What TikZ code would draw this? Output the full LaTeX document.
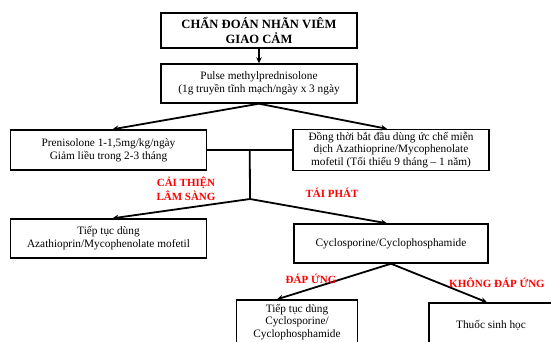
\documentclass[tikz,border=0pt]{standalone}
\usepackage{fontspec}
\setmainfont{Liberation Serif}
\usetikzlibrary{arrows.meta}

\begin{document}
\begin{tikzpicture}[
    x = 1pt, y = -1pt,
    line width = 1.4pt,
    >={Stealth[length = 6pt, width = 5.5pt]},
    box/.style = {draw, align = center, inner sep = 2pt,
      font = \fontsize{11.3}{12.8}\selectfont},
    heading/.style = {font = \fontsize{12.6}{14.5}\selectfont\bfseries},
    wide/.style = {minimum width = 196pt},
    narrow/.style = {minimum width = 121pt},
    outcome/.style = {red, align = center, inner sep = 0pt,
      font = \fontsize{11}{14}\selectfont\bfseries},
    flow/.style = {line width = 1.8pt},
    ]

    \useasboundingbox (0, 0) rectangle (551, 342);
    \clip (0, 0) rectangle (551, 342);

    \node at (259, 30.5)
    [box, wide, heading, minimum height = 35pt, name = diag]
    {CHẨN ĐOÁN NHÃN VIÊM\\GIAO CẢM};

    \node at (259, 83.5)
    [box, wide, minimum height = 39pt, name = pulse]
    {Pulse methylprednisolone\\(1g truyền tĩnh mạch/ngày x 3 ngày};

    \node at (108.5, 150)
    [box, wide, minimum height = 40pt, name = pred]
    {Prenisolone 1-1,5mg/kg/ngày\\Giảm liều trong 2-3 tháng};
    \node at (391, 150)
    [box, wide, minimum height = 41pt, name = immuno]
    {Đồng thời bắt đầu dùng ức chế miễn\\dịch Azathioprine/Mycophenolate\\mofetil (Tối thiểu 9 tháng – 1 năm)};

    \node at (108.5, 238.5)
    [box, wide, minimum height = 39pt, name = maint]
    {Tiếp tục dùng\\Azathioprin/Mycophenolate mofetil};
    \node at (391, 243.5)
    [box, wide, minimum width = 194pt, minimum height = 39pt, name = cyclo]
    {Cyclosporine/Cyclophosphamide};

    \node at (297, 322)
    [box, narrow, minimum height = 44pt, name = contcyc]
    {Tiếp tục dùng\\Cyclosporine/\\Cyclophosphamide};
    \node at (491, 325)
    [box, minimum width = 124pt, minimum height = 44pt, name = bio]
    {Thuốc sinh học};

    \coordinate (fork) at (250, 199);

    \draw [flow, ->] (diag) to (pulse);
    \draw [flow, ->] (pulse.south) to ([xshift = 4pt] pred.north);
    \draw [flow, ->] (pulse.south) to ([xshift = -4pt] immuno.north);

    \draw [flow] (pred.east) to coordinate [midway] (hub) (immuno.west);
    \draw [flow] (hub) to (fork);

    \draw [flow, ->] (fork) to ([xshift = 4pt] maint.north);
    \draw [flow, ->] (fork) to ([xshift = -4pt] cyclo.north);

    \draw [flow, ->] (cyclo.south) to ([xshift = -20pt] contcyc.north);
    \draw [flow, ->] (cyclo.south) to ([xshift = -4pt] bio.north);

    % outcome labels
    \node at (186, 189) [outcome, name = improve] {CẢI THIỆN\\LÂM SÀNG};
    \node at (332, 193) [outcome, name = relapse] {TÁI PHÁT};
    \node at (311, 279) [outcome, name = respond] {ĐÁP ỨNG};
    \node at (497, 283) [outcome, name = noresp] {KHÔNG ĐÁP ỨNG};
  \end{tikzpicture}
\end{document}
